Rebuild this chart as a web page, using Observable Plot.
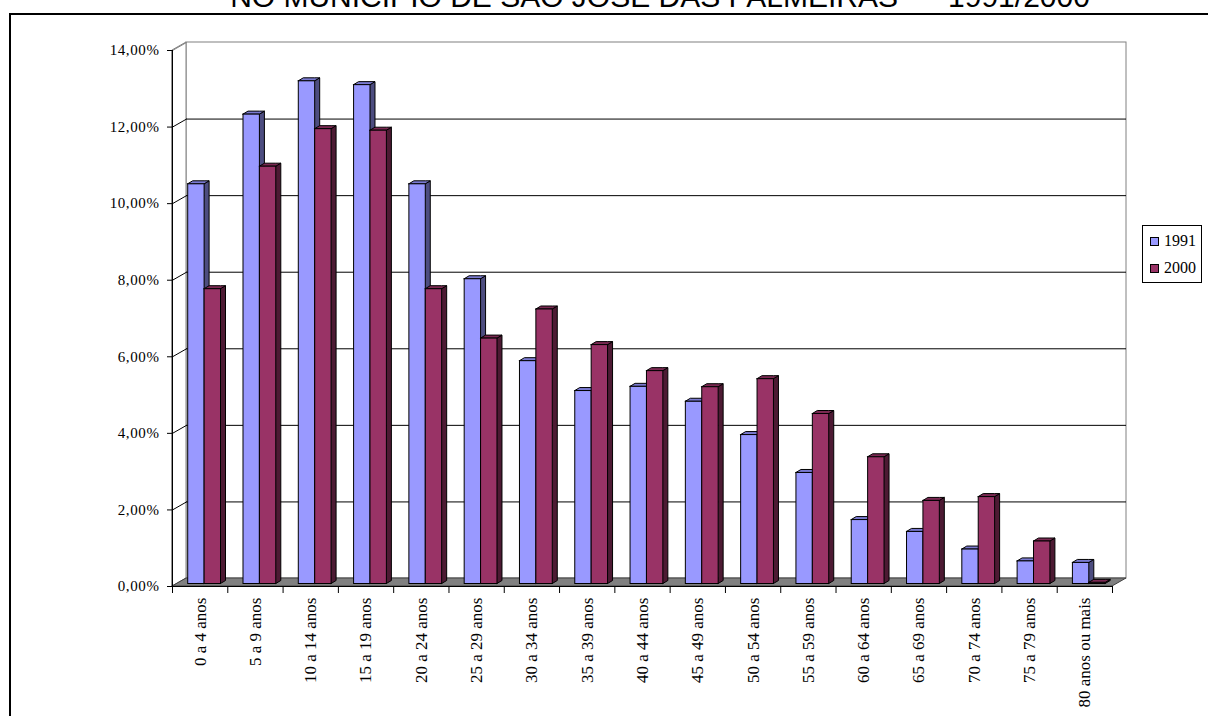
<!DOCTYPE html>
<html><head><meta charset="utf-8">
<script src="https://cdn.jsdelivr.net/npm/d3@7"></script>
<script src="https://cdn.jsdelivr.net/npm/@observablehq/plot@0.6"></script>
<style>
body{margin:0;background:#fff;}
#wrap{position:relative;width:1208px;height:716px;overflow:hidden;background:#fff;}
#frame{position:absolute;left:9px;top:13px;width:1300px;height:800px;border:2px solid #000;box-sizing:border-box;}
#title{position:absolute;left:0;width:1320px;top:-18px;line-height:30px;text-align:center;font-family:"Liberation Sans",Arial,sans-serif;font-size:30px;white-space:pre;color:#000;}
#chart{position:absolute;left:0;top:0;}
#chart g[aria-label="y-axis tick label"] text{letter-spacing:0.6px;}
#legend{position:absolute;left:1142px;top:225px;width:60px;height:58px;border:1px solid #000;box-sizing:border-box;background:#fff;font-family:"Liberation Serif","Times New Roman",serif;font-size:16px;}
#legend .row{position:absolute;left:7px;height:18px;line-height:18px;}
#legend .sw{display:inline-block;width:7px;height:7px;border:1px solid #000;margin-right:5px;vertical-align:middle;position:relative;top:-1px;}
</style></head>
<body>
<div id="wrap">
  <div id="frame"></div>
  <div id="title">NO MUNICÍPIO DE SÃO JOSÉ DAS PALMEIRAS  –  1991/2000</div>
  <div id="chart"></div>
  <div id="legend"></div>
</div>
<script>
// ---- data ----
const categories = ["0 a 4 anos","5 a 9 anos","10 a 14 anos","15 a 19 anos","20 a 24 anos","25 a 29 anos","30 a 34 anos","35 a 39 anos","40 a 44 anos","45 a 49 anos","50 a 54 anos","55 a 59 anos","60 a 64 anos","65 a 69 anos","70 a 74 anos","75 a 79 anos","80 anos ou mais"];
const seriesNames = ["1991","2000"];
const v1991 = [10.44,12.26,13.13,13.03,10.44,7.96,5.82,5.04,5.15,4.76,3.89,2.90,1.67,1.36,0.90,0.59,0.55];
const v2000 = [7.70,10.90,11.88,11.84,7.70,6.41,7.17,6.24,5.56,5.14,5.35,4.44,3.31,2.17,2.27,1.11,0.03];
const yTicks = [0,2,4,6,8,10,12,14];

// ---- styles ----
const colors = {
  "1991": {front:"#9999FF", top:"#7A7AD0", side:"#4D4D80"},
  "2000": {front:"#993366", top:"#7A2952", side:"#4D1A33"}
};
const W=1208, H=716, mL=172, mR=96, mT=50, mB=130;
const n = categories.length;
const yMax = 14;
const pxX = (W-mL-mR)/n, pxY = (H-mT-mB)/yMax;
const wallDX = 14, wallDY = 8;            // floor depth, px
const dX = wallDX/pxX, dY = wallDY/pxY;   // floor depth in data units
const barOff = 0.2026, barW = 0.2966;     // bar placement within category
const barDX = 5/pxX, barDY = 3/pxY;       // bar depth in data units
const shiftX = 4.5, shiftY = -2.5;        // bar front face offset into the depth, px
const serif = "'Liberation Serif','Times New Roman',serif";

const valuesBySeries = {"1991": v1991, "2000": v2000};
const fronts = {}, sides = {}, tops = {};
seriesNames.forEach((s, si) => {
  const vals = valuesBySeries[s];
  fronts[s] = vals.map((v,i) => ({x1: i+barOff+si*barW, x2: i+barOff+(si+1)*barW, v}));
  sides[s] = fronts[s].flatMap((d,i) => [
    {id:i, x:d.x2, y1:0, y2:d.v},
    {id:i, x:d.x2+barDX, y1:barDY, y2:d.v+barDY}
  ]);
  tops[s] = fronts[s].flatMap((d,i) => [
    {id:i, x:d.x1, y1:d.v, y2:d.v},
    {id:i, x:d.x1+barDX, y1:d.v, y2:d.v+barDY},
    {id:i, x:d.x2, y1:d.v, y2:d.v+barDY},
    {id:i, x:d.x2+barDX, y1:d.v+barDY, y2:d.v+barDY}
  ]);
});

const floor = [
  {x:0, y1:0, y2:0},
  {x:dX, y1:0, y2:dY},
  {x:n, y1:0, y2:dY},
  {x:n+dX, y1:dY, y2:dY}
];
const leftWall = [
  {x:0, y1:0, y2:yMax},
  {x:dX, y1:dY, y2:yMax+dY}
];
const bounds = d3.range(n+1);
const centers = d3.range(n).map(i => i+0.5);

const barMarks = seriesNames.flatMap(s => [
  Plot.areaY(sides[s], {x:"x", y1:"y1", y2:"y2", z:"id", curve:"linear", fill:colors[s].side, stroke:"#000", strokeWidth:1, dx:shiftX, dy:shiftY}),
  Plot.areaY(tops[s], {x:"x", y1:"y1", y2:"y2", z:"id", curve:"linear", fill:colors[s].top, stroke:"#000", strokeWidth:1, dx:shiftX, dy:shiftY}),
  Plot.rect(fronts[s], {x1:"x1", x2:"x2", y1:0, y2:"v", fill:colors[s].front, stroke:"#000", strokeWidth:1, dx:shiftX, dy:shiftY})
]);

const chart = Plot.plot({
  width: W, height: H,
  marginLeft: mL, marginRight: mR, marginTop: mT, marginBottom: mB,
  style: {fontFamily: serif, fontSize: "15px", background: "transparent", color: "#000"},
  x: {type:"linear", domain:[0,n]},
  y: {type:"linear", domain:[0,yMax]},
  marks: [
    Plot.rect([0], {x1:0, x2:n, y1:0, y2:yMax, fill:"#fff", stroke:"#808080", strokeWidth:1, dx:wallDX, dy:-wallDY}),
    Plot.areaY(leftWall, {x:"x", y1:"y1", y2:"y2", curve:"linear", fill:"#fff", stroke:"#808080", strokeWidth:1}),
    Plot.ruleY(yTicks.filter(t => t>0 && t<yMax), {y:d=>d, x1:0, x2:n, stroke:"#000", strokeWidth:1, dx:wallDX, dy:-wallDY}),
    Plot.link(yTicks, {x1:0, y1:d=>d, x2:dX, y2:d=>d+dY, stroke:d => d===yMax ? "#808080" : "#000", strokeWidth:1}),
    Plot.areaY(floor, {x:"x", y1:"y1", y2:"y2", curve:"linear", fill:"#808080", stroke:"#404040", strokeWidth:1}),
    Plot.ruleX([0], {stroke:"#000", strokeWidth:1}),
    Plot.ruleY([0], {x1:0, x2:n, stroke:"#000", strokeWidth:1}),
    Plot.axisY(yTicks, {tickSize:5, tickPadding:8, tickFormat:d => d.toFixed(2).replace(".", ",") + "%", label:null, fontSize:15, fontFamily:serif, stroke:"#000"}),
    Plot.axisX(bounds, {tickSize:7, tickFormat:() => "", label:null, stroke:"#000"}),
    Plot.axisX(centers, {tickSize:0, tickPadding:11, tickRotate:-90, tickFormat:d => categories[Math.floor(d)], label:null, fontSize:17, fontFamily:serif}),
    ...barMarks
  ]
});
document.getElementById("chart").appendChild(chart);

const leg = document.getElementById("legend");
seriesNames.forEach((s, i) => {
  const row = document.createElement("div");
  row.className = "row";
  row.style.top = (6 + i*27) + "px";
  row.innerHTML = `<span class="sw" style="background:${colors[s].front}"></span>${s}`;
  leg.appendChild(row);
});
</script>
</body></html>
